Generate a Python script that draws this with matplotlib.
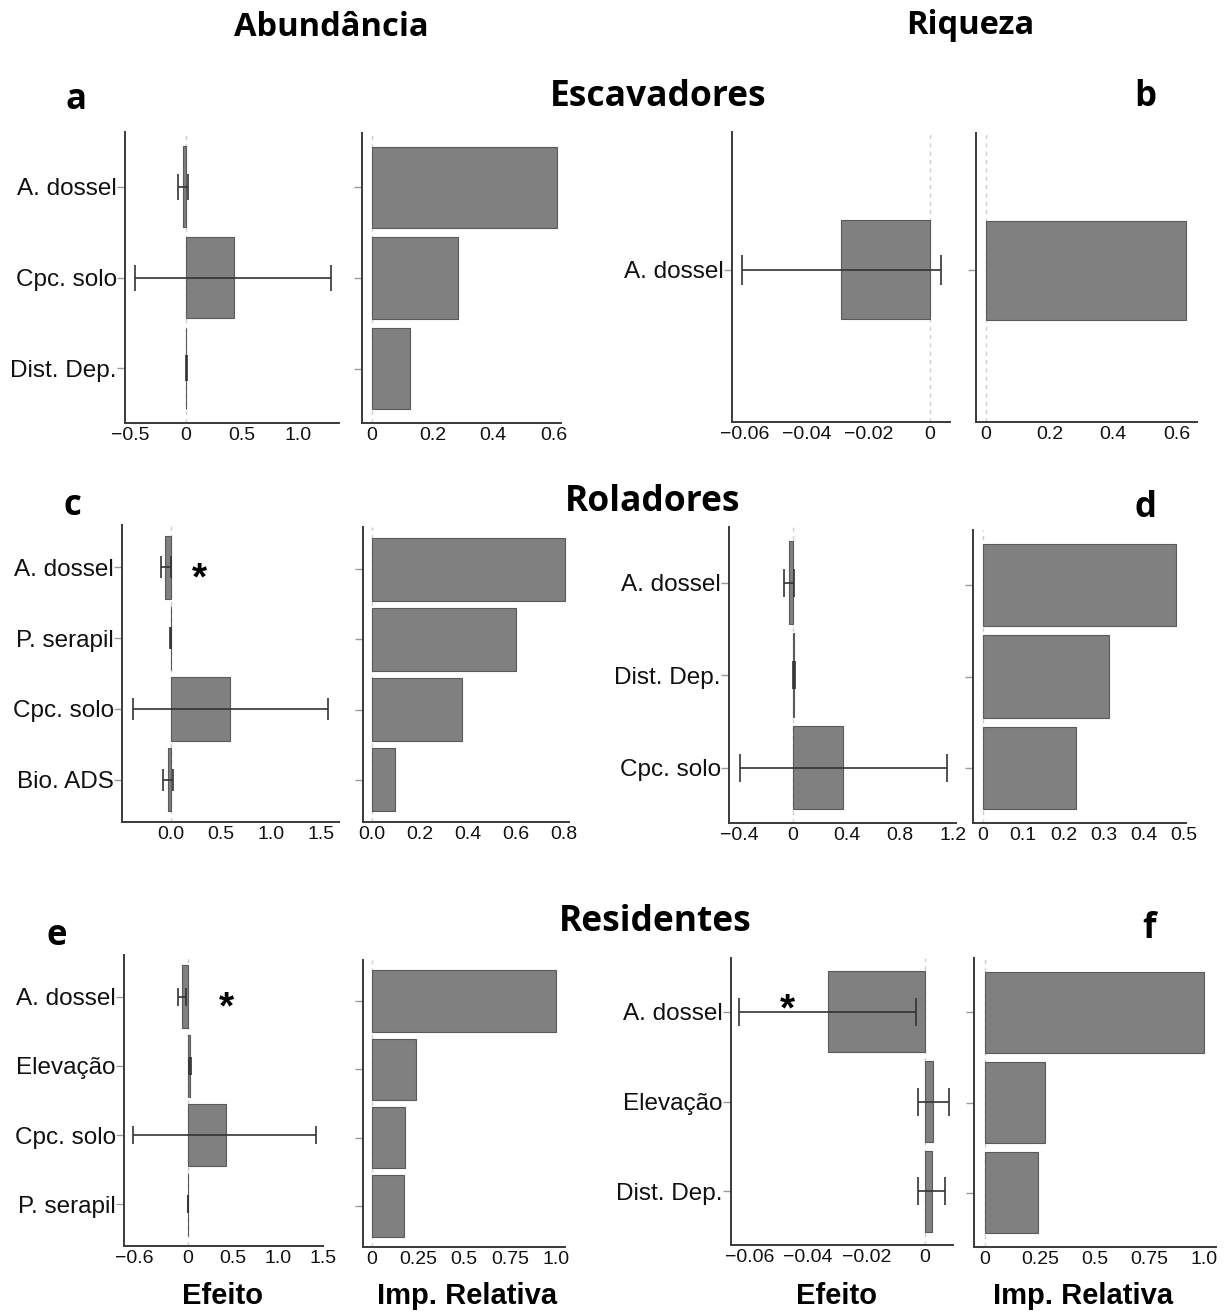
import matplotlib
matplotlib.use("Agg")
import matplotlib.pyplot as plt
import numpy as np

plt.rcParams['font.family'] = ['Liberation Sans', 'DejaVu Sans']

W, H = 1231, 1315

# Escavadores - abundancia
a_vars = ['A. dossel', 'Cpc. solo', 'Dist. Dep.']
a_eff = [-0.03, 0.43, 0.004]
a_lo = [-0.07, -0.455, -0.003]
a_hi = [0.02, 1.30, 0.006]
a_imp = [0.613, 0.285, 0.127]

# Escavadores - riqueza
b_vars = ['A. dossel']
b_eff = [-0.0289]
b_lo = [-0.061]
b_hi = [0.0036]
b_imp = [0.628]

# Roladores - abundancia
c_vars = ['A. dossel', 'P. serapil', 'Cpc. solo', 'Bio. ADS']
c_eff = [-0.06, -0.004, 0.59, -0.03]
c_lo = [-0.10, -0.006, -0.38, -0.08]
c_hi = [0.0, -0.002, 1.57, 0.02]
c_imp = [0.805, 0.60, 0.375, 0.096]

# Roladores - riqueza
d_vars = ['A. dossel', 'Dist. Dep.', 'Cpc. solo']
d_eff = [-0.03, 0.01, 0.375]
d_lo = [-0.07, 0.0, -0.40]
d_hi = [0.01, 0.015, 1.15]
d_imp = [0.48, 0.314, 0.231]

# Residentes - abundancia
e_vars = ['A. dossel', 'Elevação', 'Cpc. solo', 'P. serapil']
e_eff = [-0.07, 0.02, 0.42, 0.003]
e_lo = [-0.11, 0.01, -0.61, 0.0]
e_hi = [-0.02, 0.03, 1.42, 0.005]
e_imp = [1.0, 0.24, 0.18, 0.173]

# Residentes - riqueza
f_vars = ['A. dossel', 'Elevação', 'Dist. Dep.']
f_eff = [-0.0332, 0.0028, 0.0024]
f_lo = [-0.0636, -0.0024, -0.0024]
f_hi = [-0.0031, 0.0082, 0.007]
f_imp = [1.0, 0.273, 0.241]

BAR = '#808080'
EDGE = '#5a5a5a'
SPINE = '#3a3a3a'


def box(l, t, r, b):
    return [l / W, 1 - b / H, (r - l) / W, (b - t) / H]


def style(ax, xlim, ylim, ticks, labels):
    ax.set_xlim(*xlim)
    ax.set_ylim(*ylim)
    for s in ['top', 'right']:
        ax.spines[s].set_visible(False)
    for s in ['left', 'bottom']:
        ax.spines[s].set_color(SPINE)
        ax.spines[s].set_linewidth(1.4)
    ax.axvline(0, color='#cfcfcf', lw=1, ls=(0, (3, 3)), zorder=0)
    ax.set_xticks(ticks)
    ax.set_xticklabels(labels)
    ax.tick_params(axis='x', length=0, pad=3, labelsize=14, labelcolor='#111111')
    ax.tick_params(axis='y', length=5.5, width=1, color='#9a9a9a', pad=0.5,
                   labelsize=17.5, labelcolor='#111111')


def effect(rect, names, eff, lo, hi, xlim, ylim, ticks, labels, cap):
    ax = fig.add_axes(box(*rect))
    y = np.arange(len(names))
    eff = np.array(eff)
    ax.barh(y, eff, height=0.9, color=BAR, edgecolor=EDGE, linewidth=0.8, zorder=2)
    ax.errorbar(eff, y, xerr=[eff - np.array(lo), np.array(hi) - eff], fmt='none',
                ecolor='#333333', elinewidth=1.2, capsize=cap, capthick=1.2, zorder=3)
    ax.set_yticks(y)
    ax.set_yticklabels(names)
    style(ax, xlim, ylim, ticks, labels)
    return ax


def importance(rect, imp, xlim, ylim, ticks, labels):
    ax = fig.add_axes(box(*rect))
    y = np.arange(len(imp))
    ax.barh(y, imp, height=0.9, color=BAR, edgecolor=EDGE, linewidth=0.8, zorder=2)
    ax.set_yticks(y)
    ax.set_yticklabels([])
    style(ax, xlim, ylim, ticks, labels)
    return ax


def star(ax, x, y):
    ax.annotate('*', xy=(x, y), xytext=(0, -16), textcoords='offset points',
                ha='center', va='baseline', fontsize=28, fontweight='bold')


fig = plt.figure(figsize=(W / 100, H / 100), dpi=100)

# linha 1
effect((125, 132, 339, 423), a_vars, a_eff, a_lo, a_hi, (-0.545, 1.37), (2.6, -0.6),
       [-0.5, 0, 0.5, 1.0], ['\u22120.5', '0', '0.5', '1.0'], 9.5)
importance((362, 133, 561, 423), a_imp, (-0.033, 0.625), (2.6, -0.6),
           [0, 0.2, 0.4, 0.6], ['0', '0.2', '0.4', '0.6'])
effect((732, 132, 950, 422), b_vars, b_eff, b_lo, b_hi, (-0.0642, 0.0065), (1.38, -1.25),
       [-0.06, -0.04, -0.02, 0], ['\u22120.06', '\u22120.04', '\u22120.02', '0'], 11)
importance((976, 133, 1197, 422), b_imp, (-0.031, 0.663), (1.38, -1.25),
           [0, 0.2, 0.4, 0.6], ['0', '0.2', '0.4', '0.6'])

# linha 2
ax_c = effect((122, 525, 339, 822), c_vars, c_eff, c_lo, c_hi, (-0.49, 1.68), (3.6, -0.6),
              [0, 0.5, 1.0, 1.5], ['0.0', '0.5', '1.0', '1.5'], 8)
star(ax_c, 0.28, 0.0)
importance((363, 527, 569, 822), c_imp, (-0.0375, 0.82), (3.6, -0.6),
           [0, 0.2, 0.4, 0.6, 0.8], ['0.0', '0.2', '0.4', '0.6', '0.8'])
effect((729, 527, 956, 823), d_vars, d_eff, d_lo, d_hi, (-0.48, 1.22), (2.6, -0.6),
       [-0.4, 0, 0.4, 0.8, 1.2], ['\u22120.4', '0', '0.4', '0.8', '1.2'], 10)
importance((973, 530, 1186, 823), d_imp, (-0.025, 0.505), (2.6, -0.6),
           [0, 0.1, 0.2, 0.3, 0.4, 0.5], ['0', '0.1', '0.2', '0.3', '0.4', '0.5'])

# linha 3
ax_e = effect((124, 955, 323, 1246), e_vars, e_eff, e_lo, e_hi, (-0.71, 1.5), (3.6, -0.6),
              [-0.6, 0, 0.5, 1.0, 1.5], ['\u22120.6', '0', '0.5', '1.0', '1.5'], 6.5)
star(ax_e, 0.43, 0.0)
importance((363, 960, 565, 1247), e_imp, (-0.049, 1.05), (3.6, -0.6),
           [0, 0.25, 0.5, 0.75, 1.0], ['0', '0.25', '0.5', '0.75', '1.0'])
ax_f = effect((731, 958, 953, 1245), f_vars, f_eff, f_lo, f_hi, (-0.0663, 0.0096), (2.6, -0.6),
              [-0.06, -0.04, -0.02, 0], ['\u22120.06', '\u22120.04', '\u22120.02', '0'], 10)
star(ax_f, -0.047, -0.15)
importance((974, 958, 1216, 1247), f_imp, (-0.05, 1.053), (2.6, -0.6),
           [0, 0.25, 0.5, 0.75, 1.0], ['0', '0.25', '0.5', '0.75', '1.0'])

# titulos
head = dict(fontfamily='Open Sans', fontweight='bold', ha='center', va='center')
fig.text(331 / W, 1 - 28 / H, 'Abundância', fontsize=23.5, **head)
fig.text(970 / W, 1 - 26 / H, 'Riqueza', fontsize=23.5, **head)
fig.text(658 / W, 1 - 97 / H, 'Escavadores', fontsize=25.5, **head)
fig.text(653 / W, 1 - 502 / H, 'Roladores', fontsize=25.5, **head)
fig.text(655 / W, 1 - 922 / H, 'Residentes', fontsize=25.5, **head)
for letra, x, y in [('a', 76, 100), ('b', 1145, 97), ('c', 72, 506),
                    ('d', 1146, 508), ('e', 57, 936), ('f', 1149, 929)]:
    fig.text(x / W, 1 - y / H, letra, fontsize=25, **head)

eixo = dict(fontweight='bold', fontsize=21, ha='center', va='center')
fig.text(223 / W, 1 - 1296 / H, 'Efeito', **eixo)
fig.text(467 / W, 1 - 1296 / H, 'Imp. Relativa', **eixo)
fig.text(836 / W, 1 - 1296 / H, 'Efeito', **eixo)
fig.text(1083 / W, 1 - 1296 / H, 'Imp. Relativa', **eixo)

fig.savefig('out.png', dpi=100)
